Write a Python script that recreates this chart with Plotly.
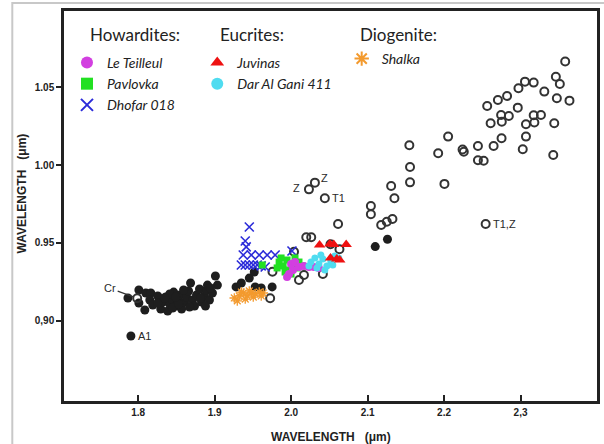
import plotly.graph_objects as go

# ---------------- data ----------------
x_tick_vals = [1.8, 1.9, 2.0, 2.1, 2.2, 2.3]
x_tick_text = ["1.8", "1.9", "2.0", "2.1", "2.2", "2,3"]
y_tick_vals = [0.90, 0.95, 1.00, 1.05]
y_tick_text = ["0,90", "0.95", "1.00", "1.05"]

group_titles = ["Howardites:", "Eucrites:", "Diogenite:"]

# filled black dots (literature data)
filled_x = [1.7866, 1.8009, 1.8009, 1.8100, 1.8165, 1.8087, 1.8152, 1.8191, 1.8256, 1.8295,
            1.8321, 1.8360, 1.8386, 1.8412, 1.8438, 1.8464, 1.8490, 1.8516, 1.8542, 1.8568,
            1.8607, 1.8633, 1.8659, 1.8685, 1.8711, 1.8737, 1.8763, 1.8802, 1.8828, 1.8867,
            1.8893, 1.8906, 1.8932, 1.8971, 1.9010, 1.9036, 1.8594, 1.8412, 1.8256, 1.8672,
            1.8347, 1.8451, 1.8529, 1.8490, 1.8815, 1.8945, 1.8880,
            1.9280, 1.9349, 1.9453, 1.9518, 1.9530, 1.9609, 1.9752,
            2.1100, 2.1260]
filled_y = [0.9146, 0.9197, 0.9114, 0.9178, 0.9178, 0.9069, 0.9133, 0.9101, 0.9159, 0.9075,
            0.9120, 0.9152, 0.9062, 0.9107, 0.9139, 0.9184, 0.9094, 0.9133, 0.9165, 0.9075,
            0.9120, 0.9152, 0.9191, 0.9242, 0.9133, 0.9094, 0.9165, 0.9204, 0.9120, 0.9159,
            0.9197, 0.9229, 0.9133, 0.9178, 0.9287, 0.9229, 0.9197, 0.9172, 0.9114, 0.9088,
            0.9146, 0.9081, 0.9107, 0.9152, 0.9146, 0.9210, 0.9094,
            0.9217, 0.9242, 0.9274, 0.9313, 0.9217, 0.9210, 0.9217,
            0.9476, 0.9523]

# open circles (literature data)
open_x = [2.3584, 2.3462, 2.3514, 2.3058, 2.3172, 2.2973, 2.3311, 2.3475, 2.3640, 2.2824,
          2.2704, 2.2564, 2.2964, 2.2746, 2.2847, 2.2609, 2.2755, 2.3172, 2.3267, 2.3071,
          2.3181, 2.3441, 2.3071, 2.2752, 2.2648, 2.2443, 2.3029, 2.3428, 2.2053, 2.2258,
          2.2242, 2.1923, 2.2443, 2.2518, 2.1546, 2.1555, 2.1555, 2.2005,
          2.1043, 2.1043, 2.1178, 2.1251, 2.1325, 2.1308, 2.1351,
          2.0614, 2.0198, 2.0263, 2.0515, 2.0632, 2.0168, 2.0103, 2.0415, 2.0038,
          1.9756, 1.9726]
open_y = [1.0665, 1.0568, 1.0521, 1.0536, 1.0530, 1.0494, 1.0472, 1.0429, 1.0414, 1.0444,
          1.0418, 1.0380, 1.0369, 1.0322, 1.0315, 1.0269, 1.0279, 1.0320, 1.0322, 1.0262,
          1.0273, 1.0269, 1.0183, 1.0172, 1.0123, 1.0123, 1.0102, 1.0065, 1.0183, 1.0086,
          1.0100, 1.0076, 1.0031, 1.0028, 1.0127, 0.9988, 0.9889, 0.9879,
          0.9737, 0.9684, 0.9615, 0.9636, 0.9654, 0.9866, 0.9787,
          0.9621, 0.9536, 0.9536, 0.9491, 0.9459, 0.9294, 0.9262, 0.9300, 0.9443,
          0.9315, 0.9144]

# labelled literature points
a1_x, a1_y = 1.7905, 0.8902          # A1 (filled)
cr_x, cr_y = 1.7987, 0.9144          # Cr (open)
z1_x, z1_y = 2.0233, 0.9844          # Z (open)
z2_x, z2_y = 2.0311, 0.9887          # Z (open)
t1_x, t1_y = 2.0441, 0.9787          # T1 (open)
t1z_x, t1z_y = 2.2544, 0.9621        # T1,Z (open)

# meteorites
le_teilleul_x = [1.9973, 2.0025, 1.9999, 2.0051, 2.0103, 2.0168, 2.0233, 2.0298, 2.0363, 1.9947]
le_teilleul_y = [0.9300, 0.9326, 0.9364, 0.9377, 0.9345, 0.9352, 0.9345, 0.9345, 0.9339, 0.9281]

pavlovka_x = [1.9622, 1.9843, 1.9895, 1.9947, 1.9973, 2.0025, 2.0077, 1.9921, 2.0103, 1.9869,
              2.0051, 1.9999, 1.9817, 2.0142]
pavlovka_y = [0.9358, 0.9377, 0.9352, 0.9390, 0.9326, 0.9364, 0.9339, 0.9313, 0.9377, 0.9403,
              0.9403, 0.9300, 0.9339, 0.9352]

dhofar_x = [1.9453, 1.9400, 1.9413, 1.9374, 1.9479, 1.9583, 1.9687, 1.9791, 1.9349, 1.9400,
            1.9453, 1.9505, 1.9557, 1.9609, 1.9661, 2.0011]
dhofar_y = [0.9602, 0.9512, 0.9474, 0.9422, 0.9422, 0.9422, 0.9422, 0.9422, 0.9358, 0.9358,
            0.9358, 0.9358, 0.9358, 0.9352, 0.9345, 0.9448]

juvinas_x = [2.0372, 2.0506, 2.0558, 2.0720, 2.0515, 2.0597, 2.0636]
juvinas_y = [0.9487, 0.9493, 0.9490, 0.9490, 0.9403, 0.9397, 0.9390]

dag411_x = [2.0259, 2.0311, 2.0363, 2.0415, 2.0467, 2.0519, 2.0571, 2.0337, 2.0441, 2.0545,
            2.0389, 2.0623, 2.0233]
dag411_y = [0.9377, 0.9403, 0.9364, 0.9397, 0.9352, 0.9384, 0.9416, 0.9339, 0.9326, 0.9358,
            0.9422, 0.9403, 0.9352]

shalka_x = [1.9257, 1.9322, 1.9374, 1.9426, 1.9479, 1.9531, 1.9583, 1.9635, 1.9296, 1.9400,
            1.9505, 1.9609, 1.9349, 1.9453]
shalka_y = [0.9146, 0.9159, 0.9178, 0.9159, 0.9178, 0.9172, 0.9184, 0.9178, 0.9127, 0.9139,
            0.9152, 0.9159, 0.9184, 0.9191]

# ---------------- figure ----------------
BLACK = "#1e1e1e"
fig = go.Figure()

fig.add_trace(go.Scatter(x=filled_x + [a1_x], y=filled_y + [a1_y], mode="markers",
                         marker=dict(symbol="circle", size=9, color=BLACK),
                         showlegend=False, hoverinfo="skip"))
fig.add_trace(go.Scatter(x=open_x + [cr_x, z1_x, z2_x, t1_x, t1z_x],
                         y=open_y + [cr_y, z1_y, z2_y, t1_y, t1z_y], mode="markers",
                         marker=dict(symbol="circle-open", size=8, color="#333333",
                                     line=dict(width=2)),
                         showlegend=False, hoverinfo="skip"))

fig.add_trace(go.Scatter(x=shalka_x, y=shalka_y, mode="markers", name="Shalka",
                         legend="legend3",
                         marker=dict(symbol="asterisk-open", size=8, color="#f39a2e",
                                     line=dict(width=1.3, color="#f39a2e"))))
fig.add_trace(go.Scatter(x=dhofar_x, y=dhofar_y, mode="markers", name="Dhofar 018",
                         legend="legend",
                         marker=dict(symbol="x-thin-open", size=9, color="#2b2bd9",
                                     line=dict(width=1.6, color="#2b2bd9"))))
fig.add_trace(go.Scatter(x=pavlovka_x, y=pavlovka_y, mode="markers", name="Pavlovka",
                         legend="legend",
                         marker=dict(symbol="square", size=7, color="#22e022")))
fig.add_trace(go.Scatter(x=le_teilleul_x, y=le_teilleul_y, mode="markers", name="Le Teilleul",
                         legend="legend",
                         marker=dict(symbol="circle", size=8, color="#d23fe0")))
fig.add_trace(go.Scatter(x=dag411_x, y=dag411_y, mode="markers", name="Dar Al Gani 411",
                         legend="legend2",
                         marker=dict(symbol="circle", size=7, color="#4fdcf0")))
fig.add_trace(go.Scatter(x=juvinas_x, y=juvinas_y, mode="markers", name="Juvinas",
                         legend="legend2",
                         marker=dict(symbol="triangle-up", size=10, color="#ee1111")))

lab_font = dict(family="Liberation Sans", size=11, color="#2a2a2a")
title_font = dict(family="Lato", size=17, color="#222", style="normal")
ann = [
    dict(x=cr_x, y=cr_y, text="Cr", showarrow=True, arrowhead=0, arrowwidth=1.2,
         arrowcolor="#333", ax=-27, ay=-10, standoff=4, font=lab_font),
    dict(x=a1_x, y=a1_y, text="A1", showarrow=False, xanchor="left", xshift=5, font=lab_font),
    dict(x=z1_x, y=z1_y, text="Z", showarrow=False, xanchor="right", xshift=-7, yshift=1,
         font=lab_font),
    dict(x=z2_x, y=z2_y, text="Z", showarrow=False, xanchor="left", xshift=4, yshift=5,
         font=lab_font),
    dict(x=t1_x, y=t1_y, text="T1", showarrow=False, xanchor="left", xshift=5, font=lab_font),
    dict(x=t1z_x, y=t1z_y, text="T1,Z", showarrow=False, xanchor="left", xshift=5,
         font=lab_font),
    dict(xref="paper", yref="paper", x=0.5, y=-0.0915, text="WAVELENGTH&nbsp;&nbsp;&nbsp;(μm)",
         showarrow=False, xanchor="center", yanchor="middle",
         font=dict(family="Liberation Sans", size=12, color="#222", weight="bold")),
    dict(xref="paper", yref="paper", x=-0.079, y=0.532, text="WAVELENGTH&nbsp;&nbsp;&nbsp;(μm)",
         textangle=-90, showarrow=False, xanchor="center", yanchor="middle",
         font=dict(family="Liberation Sans", size=12, color="#222", weight="bold")),
]
for tx, txt in zip([0.0448, 0.2888, 0.5522], group_titles):
    ann.append(dict(xref="paper", yref="paper", x=tx, y=0.9385, text=txt, showarrow=False,
                    xanchor="left", yanchor="middle", font=title_font))

item_font = dict(family="Lato", size=14, color="#222", style="italic")
leg_common = dict(xanchor="left", yanchor="top", bgcolor="rgba(0,0,0,0)", borderwidth=0,
                  font=item_font, itemsizing="constant", traceorder="reversed")

fig.update_layout(
    width=604, height=444,
    margin=dict(l=64, r=4, t=11, b=43),
    paper_bgcolor="white", plot_bgcolor="white",
    xaxis=dict(range=[1.703, 2.400], tickvals=x_tick_vals, ticktext=x_tick_text,
               showgrid=False, zeroline=False, showline=True, mirror=True,
               linecolor="#222", linewidth=2.5, ticks="inside", ticklen=6, tickwidth=1.5,
               tickcolor="#222",
               tickfont=dict(family="Liberation Sans", size=10, color="#222", weight="bold")),
    yaxis=dict(range=[0.8484, 1.099], tickvals=y_tick_vals, ticktext=y_tick_text,
               showgrid=False, zeroline=False, showline=True, mirror=True,
               linecolor="#222", linewidth=2.5, ticks="outside", ticklen=5, tickwidth=1.5,
               tickcolor="#222",
               tickfont=dict(family="Liberation Sans", size=10, color="#222", weight="bold")),
    legend=dict(x=0.0056, y=0.908, **leg_common),
    legend2=dict(x=0.25, y=0.908, **leg_common),
    legend3=dict(x=0.521, y=0.918, **leg_common),
    annotations=ann,
    shapes=[dict(type="rect", xref="paper", yref="paper", x0=-0.097, x1=1.3, y0=-0.4,
                 y1=1.0205, line=dict(color="#c8c8c8", width=2), layer="below")],
)

fig.write_html("out.html", config={"displayModeBar": False},
               post_script="document.body.style.margin='0px';")
